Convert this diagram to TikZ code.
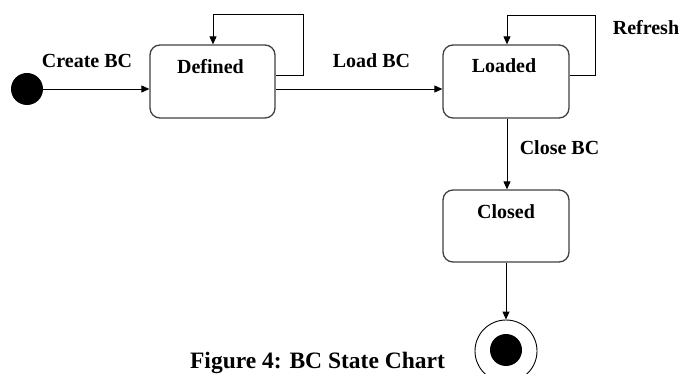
\documentclass[tikz,border=0pt]{standalone}
\usepackage{fontspec}
\setmainfont{Liberation Serif}
\usetikzlibrary{arrows.meta}

\tikzset{
  state/.style={draw=black!75, line width=1.3pt, rounded corners=10pt, inner sep=0pt},
  trans/.style={draw=black, line width=0.9pt, -{Triangle[length=8pt,width=7pt]}},
  lbl/.style={font=\fontsize{20}{23}\selectfont\bfseries, anchor=base, inner sep=0pt},
  captiontext/.style={font=\fontsize{23.5}{27}\selectfont\bfseries, anchor=base, inner sep=0pt},
}

\begin{document}
\begin{tikzpicture}[x=1pt, y=-1pt]
  \useasboundingbox (0,0) rectangle (683,374);

  % pseudo-states
  \node[circle, fill=black, minimum size=32pt, inner sep=0pt] (init) at (27,89) {};
  \node[circle, draw=black, line width=0.9pt, minimum size=62pt, inner sep=0pt] (final) at (506,351) {};
  \node[circle, fill=black, minimum size=32pt, inner sep=0pt] (finaldot) at (506,350) {};

  % states
  \node[state, minimum width=125pt, minimum height=73pt] (defined) at (212.5,81.5) {};
  \node[state, minimum width=126pt, minimum height=73pt] (loaded) at (506,81.5) {};
  \node[state, minimum width=126pt, minimum height=72pt] (closed) at (506,226) {};

  % state names
  \node[lbl] (tdefined) at (210.5,74) {Defined};
  \node[lbl] (tloaded) at (504,73) {Loaded};
  \node[lbl] (tclosed) at (506,219) {Closed};

  % loop corners
  \coordinate (d1) at (303,75);
  \coordinate (d2) at (303,14);
  \coordinate (d3) at (213,14);
  \coordinate (l1) at (595,75);
  \coordinate (l2) at (595,15);
  \coordinate (l3) at (507,15);

  % transitions
  \draw[trans] (init.east) -- (defined.west |- init.east);
  \draw[trans] (defined.east |- init.east) -- (loaded.west |- init.east);
  \draw[trans] (defined.east |- d1) -- (d1) -- (d2) -- (d3) -- (defined.north -| d3);
  \draw[trans] (loaded.east |- l1) -- (l1) -- (l2) -- (l3) -- (loaded.north -| l3);
  \draw[trans] (loaded.south -| l3) -- (closed.north -| l3);
  \draw[trans] (closed.south) -- (final.north);

  % transition labels
  \node[lbl] (tcreate) at (87,68) {Create BC};
  \node[lbl] (tload) at (371.5,68) {Load BC};
  \node[lbl] (trefresh) at (646,35) {Refresh};
  \node[lbl] (tclose) at (559.5,155) {Close BC};

  % caption
  \node[captiontext] (caption) at (317.5,368.5) {Figure 4: BC State Chart};
\end{tikzpicture}
\end{document}
